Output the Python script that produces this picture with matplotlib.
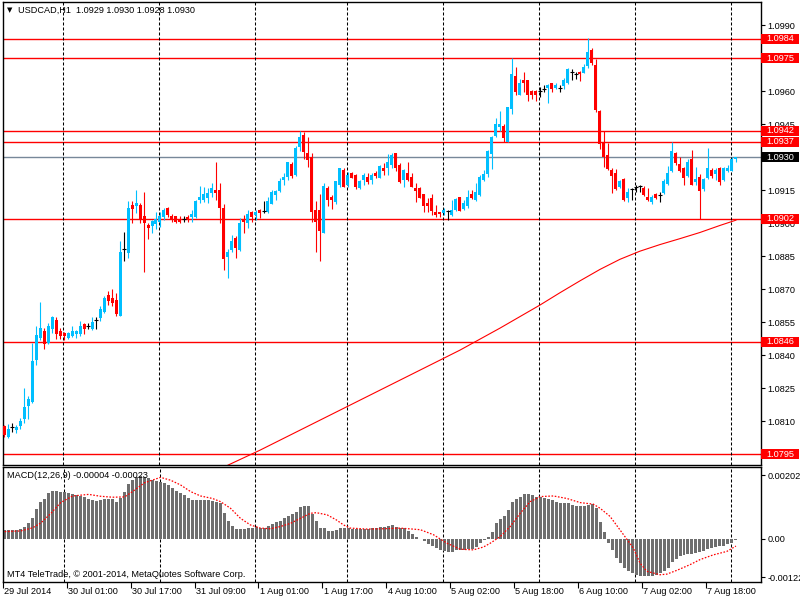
import matplotlib
matplotlib.use("Agg")
import matplotlib.pyplot as plt
import numpy as np
from matplotlib.patches import Rectangle
from matplotlib.transforms import blended_transform_factory

plt.rcParams['font.family'] = ['Liberation Sans', 'DejaVu Sans']

# USDCAD H1, 29 Jul 2014 09:00 .. 8 Aug 2014 01:00
opens = [
    1.08078, 1.08027, 1.08073, 1.08059, 1.08078, 1.08109, 1.08169, 1.08187, 1.08378, 1.08478,
    1.08510, 1.08455, 1.08519, 1.08560, 1.08510, 1.08501, 1.08478, 1.08487, 1.08496, 1.08496,
    1.08542, 1.08533, 1.08519, 1.08560, 1.08569, 1.08596, 1.08674, 1.08660, 1.08651, 1.08578,
    1.08883, 1.08866, 1.09083, 1.09078, 1.09083, 1.09032, 1.08991, 1.08987, 1.08996, 1.09006,
    1.09029, 1.09069, 1.09032, 1.09032, 1.09019, 1.09019, 1.09029, 1.09028, 1.09028, 1.09105,
    1.09105, 1.09114, 1.09139, 1.09151, 1.09151, 1.09069, 1.08848, 1.08878, 1.08933, 1.08878,
    1.09019, 1.09000, 1.09052, 1.09037, 1.09060, 1.09057, 1.09051, 1.09089, 1.09128, 1.09146,
    1.09196, 1.09211, 1.09269, 1.09219, 1.09348, 1.09401, 1.09319, 1.09303, 1.09060, 1.09060,
    1.08957, 1.09162, 1.09120, 1.09096, 1.09174, 1.09242, 1.09174, 1.09228, 1.09219, 1.09160,
    1.09196, 1.09211, 1.09196, 1.09228, 1.09207, 1.09253, 1.09251, 1.09265, 1.09318, 1.09265,
    1.09196, 1.09228, 1.09211, 1.09162, 1.09162, 1.09133, 1.09093, 1.09116, 1.09052, 1.09052,
    1.09048, 1.09057, 1.09037, 1.09060, 1.09118, 1.09063, 1.09078, 1.09133, 1.09105, 1.09128,
    1.09196, 1.09222, 1.09314, 1.09397, 1.09436, 1.09444, 1.09371, 1.09518, 1.09670, 1.09583,
    1.09651, 1.09651, 1.09601, 1.09601, 1.09601, 1.09610, 1.09616, 1.09636, 1.09616, 1.09613,
    1.09626, 1.09636, 1.09686, 1.09679, 1.09689, 1.09685, 1.09716, 1.09788, 1.09719, 1.09510,
    1.09368, 1.09310, 1.09242, 1.09230, 1.09164, 1.09201, 1.09116, 1.09155, 1.09166, 1.09169,
    1.09162, 1.09120, 1.09098, 1.09133, 1.09128, 1.09136, 1.09177, 1.09238, 1.09321, 1.09269,
    1.09250, 1.09216, 1.09292, 1.09189, 1.09211, 1.09156, 1.09204, 1.09242, 1.09224, 1.09253,
    1.09196, 1.09239, 1.09239, 1.09290,
]
highs = [
    1.08082, 1.08087, 1.08091, 1.08082, 1.08114, 1.08251, 1.08214, 1.08455, 1.08533, 1.08642,
    1.08524, 1.08546, 1.08578, 1.08574, 1.08524, 1.08505, 1.08505, 1.08533, 1.08514, 1.08555,
    1.08546, 1.08546, 1.08574, 1.08574, 1.08624, 1.08669, 1.08692, 1.08701, 1.08683, 1.08919,
    1.08960, 1.09101, 1.09101, 1.09151, 1.09093, 1.09143, 1.09000, 1.09014, 1.09052, 1.09052,
    1.09069, 1.09073, 1.09042, 1.09034, 1.09032, 1.09032, 1.09037, 1.09060, 1.09105, 1.09169,
    1.09166, 1.09160, 1.09183, 1.09280, 1.09183, 1.09087, 1.08883, 1.08946, 1.08942, 1.09023,
    1.09037, 1.09060, 1.09055, 1.09060, 1.09064, 1.09101, 1.09120, 1.09151, 1.09151, 1.09204,
    1.09227, 1.09280, 1.09278, 1.09353, 1.09420, 1.09414, 1.09394, 1.09318, 1.09101, 1.09133,
    1.09183, 1.09171, 1.09128, 1.09194, 1.09253, 1.09253, 1.09234, 1.09231, 1.09222, 1.09196,
    1.09227, 1.09227, 1.09227, 1.09237, 1.09265, 1.09273, 1.09314, 1.09318, 1.09321, 1.09273,
    1.09245, 1.09280, 1.09227, 1.09183, 1.09164, 1.09135, 1.09114, 1.09133, 1.09083, 1.09053,
    1.09069, 1.09060, 1.09105, 1.09114, 1.09119, 1.09105, 1.09151, 1.09151, 1.09183, 1.09219,
    1.09242, 1.09333, 1.09398, 1.09480, 1.09512, 1.09450, 1.09530, 1.09750, 1.09712, 1.09654,
    1.09689, 1.09653, 1.09606, 1.09606, 1.09621, 1.09628, 1.09633, 1.09639, 1.09636, 1.09628,
    1.09659, 1.09704, 1.09701, 1.09689, 1.09692, 1.09723, 1.09841, 1.09795, 1.09745, 1.09515,
    1.09421, 1.09364, 1.09250, 1.09245, 1.09196, 1.09204, 1.09159, 1.09159, 1.09174, 1.09172,
    1.09169, 1.09159, 1.09128, 1.09139, 1.09141, 1.09201, 1.09262, 1.09371, 1.09325, 1.09300,
    1.09257, 1.09291, 1.09333, 1.09254, 1.09222, 1.09207, 1.09344, 1.09253, 1.09253, 1.09254,
    1.09254, 1.09265, 1.09300, 1.09300,
]
lows = [
    1.08027, 1.08025, 1.08050, 1.08045, 1.08064, 1.08091, 1.08109, 1.08182, 1.08355, 1.08469,
    1.08428, 1.08451, 1.08501, 1.08473, 1.08473, 1.08469, 1.08473, 1.08482, 1.08478, 1.08487,
    1.08496, 1.08519, 1.08514, 1.08519, 1.08555, 1.08594, 1.08628, 1.08624, 1.08578, 1.08576,
    1.08828, 1.08842, 1.09000, 1.09046, 1.09000, 1.08779, 1.08928, 1.08956, 1.08973, 1.08982,
    1.09014, 1.09028, 1.09006, 1.09001, 1.09001, 1.09005, 1.09005, 1.09005, 1.09023, 1.09092,
    1.09098, 1.09092, 1.09119, 1.09105, 1.09000, 1.08787, 1.08751, 1.08871, 1.08842, 1.08876,
    1.08955, 1.08978, 1.09006, 1.09014, 1.09023, 1.09046, 1.09046, 1.09087, 1.09105, 1.09141,
    1.09174, 1.09196, 1.09206, 1.09216, 1.09329, 1.09292, 1.09257, 1.09006, 1.08871, 1.08828,
    1.08954, 1.09080, 1.09064, 1.09086, 1.09166, 1.09163, 1.09166, 1.09204, 1.09155, 1.09154,
    1.09174, 1.09177, 1.09177, 1.09204, 1.09204, 1.09219, 1.09219, 1.09251, 1.09239, 1.09184,
    1.09166, 1.09193, 1.09163, 1.09098, 1.09113, 1.09052, 1.09052, 1.09037, 1.09029, 1.09029,
    1.09037, 1.09014, 1.09034, 1.09055, 1.09055, 1.09060, 1.09068, 1.09109, 1.09103, 1.09124,
    1.09194, 1.09211, 1.09247, 1.09394, 1.09420, 1.09371, 1.09368, 1.09497, 1.09583, 1.09581,
    1.09598, 1.09557, 1.09564, 1.09557, 1.09575, 1.09595, 1.09548, 1.09598, 1.09609, 1.09598,
    1.09609, 1.09633, 1.09651, 1.09654, 1.09648, 1.09682, 1.09707, 1.09719, 1.09507, 1.09338,
    1.09257, 1.09242, 1.09139, 1.09151, 1.09159, 1.09103, 1.09098, 1.09105, 1.09143, 1.09143,
    1.09124, 1.09102, 1.09087, 1.09110, 1.09098, 1.09132, 1.09174, 1.09235, 1.09265, 1.09235,
    1.09174, 1.09211, 1.09172, 1.09174, 1.09019, 1.09148, 1.09200, 1.09204, 1.09196, 1.09174,
    1.09192, 1.09235, 1.09237, 1.09280,
]
closes = [
    1.08036, 1.08064, 1.08073, 1.08074, 1.08102, 1.08164, 1.08200, 1.08373, 1.08491, 1.08524,
    1.08451, 1.08533, 1.08574, 1.08496, 1.08487, 1.08487, 1.08501, 1.08510, 1.08510, 1.08533,
    1.08519, 1.08533, 1.08551, 1.08560, 1.08610, 1.08660, 1.08646, 1.08637, 1.08587, 1.08869,
    1.08883, 1.09070, 1.09065, 1.09093, 1.09019, 1.09000, 1.08978, 1.09011, 1.09019, 1.09032,
    1.09060, 1.09037, 1.09014, 1.09006, 1.09006, 1.09019, 1.09014, 1.09042, 1.09102, 1.09120,
    1.09133, 1.09137, 1.09162, 1.09139, 1.09069, 1.08837, 1.08871, 1.08921, 1.08889, 1.09000,
    1.09005, 1.09042, 1.09029, 1.09052, 1.09048, 1.09057, 1.09101, 1.09142, 1.09146, 1.09192,
    1.09211, 1.09278, 1.09216, 1.09344, 1.09394, 1.09325, 1.09287, 1.09050, 1.09006, 1.08965,
    1.09171, 1.09105, 1.09105, 1.09192, 1.09251, 1.09166, 1.09219, 1.09207, 1.09165, 1.09192,
    1.09219, 1.09189, 1.09219, 1.09215, 1.09260, 1.09239, 1.09280, 1.09310, 1.09251, 1.09189,
    1.09242, 1.09196, 1.09166, 1.09146, 1.09116, 1.09078, 1.09080, 1.09055, 1.09037, 1.09040,
    1.09060, 1.09057, 1.09060, 1.09110, 1.09057, 1.09093, 1.09118, 1.09113, 1.09143, 1.09211,
    1.09222, 1.09328, 1.09394, 1.09451, 1.09451, 1.09389, 1.09527, 1.09679, 1.09598, 1.09636,
    1.09636, 1.09583, 1.09583, 1.09583, 1.09601, 1.09610, 1.09628, 1.09609, 1.09628, 1.09613,
    1.09651, 1.09701, 1.09686, 1.09679, 1.09677, 1.09712, 1.09780, 1.09727, 1.09515, 1.09359,
    1.09300, 1.09247, 1.09216, 1.09156, 1.09194, 1.09105, 1.09143, 1.09155, 1.09166, 1.09169,
    1.09128, 1.09105, 1.09120, 1.09113, 1.09128, 1.09192, 1.09227, 1.09330, 1.09275, 1.09238,
    1.09207, 1.09280, 1.09174, 1.09201, 1.09148, 1.09201, 1.09253, 1.09216, 1.09242, 1.09189,
    1.09253, 1.09253, 1.09290, 1.09300,
]

# MACD(12,26,9) main line, drawn as histogram
macd = [
    0.00028, 0.00028, 0.00028, 0.00028, 0.00032, 0.00039, 0.00049, 0.00065, 0.00094, 0.00118,
    0.00126, 0.00144, 0.00152, 0.00153, 0.00150, 0.00147, 0.00144, 0.00141, 0.00139, 0.00136,
    0.00132, 0.00126, 0.00123, 0.00121, 0.00123, 0.00126, 0.00126, 0.00125, 0.00118, 0.00131,
    0.00147, 0.00174, 0.00188, 0.00197, 0.00199, 0.00197, 0.00192, 0.00188, 0.00184, 0.00181,
    0.00176, 0.00170, 0.00160, 0.00153, 0.00144, 0.00139, 0.00128, 0.00123, 0.00123, 0.00123,
    0.00123, 0.00122, 0.00121, 0.00118, 0.00113, 0.00081, 0.00055, 0.00042, 0.00031, 0.00031,
    0.00032, 0.00033, 0.00034, 0.00036, 0.00034, 0.00034, 0.00041, 0.00047, 0.00052, 0.00058,
    0.00065, 0.00073, 0.00079, 0.00086, 0.00102, 0.00104, 0.00104, 0.00079, 0.00055, 0.00034,
    0.00034, 0.00026, 0.00024, 0.00028, 0.00033, 0.00034, 0.00034, 0.00032, 0.00031, 0.00031,
    0.00031, 0.00032, 0.00034, 0.00034, 0.00036, 0.00039, 0.00042, 0.00043, 0.00039, 0.00034,
    0.00034, 0.00026, 0.00016, 0.00007, -0.00001, -0.00006, -0.00016, -0.00024, -0.00029, -0.00035,
    -0.00040, -0.00043, -0.00043, -0.00037, -0.00035, -0.00035, -0.00033, -0.00031, -0.00026, -0.00012,
    -0.00003, 0.00007, 0.00023, 0.00049, 0.00062, 0.00071, 0.00092, 0.00116, 0.00125, 0.00134,
    0.00142, 0.00142, 0.00140, 0.00134, 0.00132, 0.00128, 0.00125, 0.00123, 0.00118, 0.00115,
    0.00113, 0.00113, 0.00107, 0.00105, 0.00105, 0.00105, 0.00107, 0.00111, 0.00097, 0.00052,
    0.00023, -0.00012, -0.00035, -0.00061, -0.00077, -0.00093, -0.00103, -0.00108, -0.00114, -0.00117,
    -0.00119, -0.00119, -0.00119, -0.00114, -0.00108, -0.00103, -0.00093, -0.00075, -0.00064, -0.00056,
    -0.00051, -0.00047, -0.00047, -0.00045, -0.00043, -0.00040, -0.00033, -0.00029, -0.00026, -0.00024,
    -0.00022, -0.00016, -0.00012, -0.00004,
]

# signal line, read at points along the dotted curve
signal_bar = [0, 4, 7, 9, 11.5, 14, 17, 21, 24, 27, 30, 32, 35, 39, 41.5, 44, 46.5, 49, 52, 54,
              56.5, 59, 61.5, 64, 66.5, 69, 71.5, 74, 76.5, 78, 80.7, 83, 84.8, 86.5, 90.7, 94.8,
              99, 104, 107.3, 110.7, 114, 117.3, 119.8, 121.5, 124, 126.5, 129, 131.5, 134, 137.3,
              140.7, 144, 147.3, 149, 151.5, 154, 157.3, 159, 160.7, 164, 165.7, 168.2, 171.5, 174,
              177.3, 180.7, 183]
signal_val = [0.00023, 0.00025, 0.00035, 0.00050, 0.00080, 0.00115, 0.00136, 0.00141, 0.00135, 0.00132,
              0.00133, 0.00150, 0.00178, 0.00195, 0.00186, 0.00171, 0.00150, 0.00136, 0.00128, 0.00118,
              0.00097, 0.00065, 0.00044, 0.00034, 0.00032, 0.00039, 0.00049, 0.00065, 0.00081, 0.00083,
              0.00076, 0.00060, 0.00044, 0.00034, 0.00031, 0.00032, 0.00034, 0.00029, 0.00013, -0.00014,
              -0.00033, -0.00035, -0.00026, -0.00014, 0.00007, 0.00039, 0.00081, 0.00118, 0.00134, 0.00136,
              0.00128, 0.00115, 0.00110, 0.00097, 0.00071, 0.00028, -0.00029, -0.00077, -0.00103, -0.00114,
              -0.00112, -0.00100, -0.00082, -0.00066, -0.00051, -0.00040, -0.00023]

# moving average line
ma_bar = [55, 56, 64, 74, 84, 94, 104, 114, 124, 134, 139, 144, 149, 154, 159, 164, 169, 174, 179, 183]
ma_val = [1.07890, 1.07900, 1.07968, 1.08059, 1.08150, 1.08241, 1.08332, 1.08423, 1.08523, 1.08628,
          1.08684, 1.08738, 1.08790, 1.08836, 1.08873, 1.08903, 1.08930, 1.08958, 1.08990, 1.09014]

levels = [1.0984, 1.0975, 1.0942, 1.0937, 1.0902, 1.0846, 1.0795]
bid = 1.0930
price_ticks = [1.0990, 1.0975, 1.0960, 1.0945, 1.0930, 1.0915, 1.0900, 1.0885,
               1.0870, 1.0855, 1.0840, 1.0825, 1.0810, 1.0795]
macd_ticks = [0.00202, 0.0, -0.00122]
macd_tick_labels = ['0.00202', '0.00', '-0.00122']

day_start_bar = [15, 39, 63, 86, 110, 134, 158, 182]
time_bar = [0, 16, 32, 48, 64, 80, 96, 112, 128, 144, 160, 176]
time_labels = ['29 Jul 2014', '30 Jul 01:00', '30 Jul 17:00', '31 Jul 09:00', '1 Aug 01:00',
               '1 Aug 17:00', '4 Aug 10:00', '5 Aug 02:00', '5 Aug 18:00', '6 Aug 10:00',
               '7 Aug 02:00', '7 Aug 18:00']

BULL = '#00BFFF'
BEAR = '#FF0000'
FS = 6.6

fig = plt.figure(figsize=(8, 6), dpi=100)
ax = fig.add_axes([0.0034, 0.225, 0.9475, 0.7717])
axm = fig.add_axes([0.0034, 0.0305, 0.9475, 0.1907])

x = np.arange(len(opens))
o = np.array(opens)
h = np.array(highs)
l = np.array(lows)
c = np.array(closes)
up = c > o
dn = c < o
dj = c == o
col = np.where(up, BULL, np.where(dn, BEAR, 'black'))

# levels and bid line
for lv in levels:
    ax.axhline(lv, color='red', lw=1, zorder=1)
ax.axhline(bid, color='#778899', lw=1, zorder=1)

# period separators
dash = (0, (2.9, 1.9))
for d in day_start_bar:
    ax.axvline(d - 0.25, color='black', lw=0.75, linestyle=dash, zorder=1)
    axm.axvline(d - 0.25, color='black', lw=0.75, linestyle=dash, zorder=1)

# moving average
ax.plot(ma_bar, ma_val, color='red', lw=0.8, zorder=2)

# candles
ax.vlines(x, l, h, colors=col, lw=0.8, zorder=3)
nb = ~dj
ax.bar(x[nb], np.abs(c - o)[nb], bottom=np.minimum(o, c)[nb], width=0.75,
       color=col[nb], linewidth=0, zorder=4)
ax.hlines(o[dj], x[dj] - 0.4, x[dj] + 0.4, colors='black', lw=0.8, zorder=4)

ax.set_xlim(-0.325, 189.2)
ax.set_ylim(1.079006, 1.100063)
ax.set_xticks([])
ax.yaxis.tick_right()
ax.set_yticks(price_ticks)
ax.set_yticklabels([f'{t:.4f}' for t in price_ticks])
ax.tick_params(axis='y', length=3, width=0.8, pad=2, labelsize=FS, colors='black')
for s in ax.spines.values():
    s.set_linewidth(1)

# right side level boxes
trans = blended_transform_factory(ax.transAxes, ax.transData)
half = 0.000227
for lv in levels:
    ax.add_patch(Rectangle((1.0005, lv - half), 0.0505, 2 * half, transform=trans,
                           facecolor='red', edgecolor='none', clip_on=False, zorder=6))
    ax.text(1.007, lv, f'{lv:.4f}', transform=trans, color='white', fontsize=FS,
            va='center', ha='left', zorder=7, clip_on=False)
ax.add_patch(Rectangle((1.0005, bid - half), 0.0505, 2 * half, transform=trans,
                       facecolor='black', edgecolor='none', clip_on=False, zorder=6))
ax.text(1.007, bid, f'{bid:.4f}', transform=trans, color='white', fontsize=FS,
        va='center', ha='left', zorder=7, clip_on=False)

ax.text(0.0057, 0.9816, '\u25bc', transform=ax.transAxes, fontsize=5, va='center',
        ha='left', family=['DejaVu Sans'])
ax.text(0.0202, 0.9816, 'USDCAD,H1  1.0929 1.0930 1.0928 1.0930', transform=ax.transAxes,
        fontsize=FS, va='center', ha='left')

# MACD panel
axm.bar(x, macd, width=0.75, color='#6E6E6E', linewidth=0, zorder=2)
axm.plot(signal_bar, signal_val, color='red', lw=0.9, linestyle=(0, (1.3, 1.3)), zorder=3)
axm.set_xlim(-0.325, 189.2)
axm.set_ylim(-0.00136, 0.00227)
axm.yaxis.tick_right()
axm.set_yticks(macd_ticks)
axm.set_yticklabels(macd_tick_labels)
axm.tick_params(axis='y', length=3, width=0.8, pad=2, labelsize=FS)
axm.set_xticks([b - 0.5 for b in time_bar])
axm.set_xticklabels([])
axm.tick_params(axis='x', length=4, width=0.8, direction='out')
for s in axm.spines.values():
    s.set_linewidth(1)
tb = blended_transform_factory(axm.transData, axm.transAxes)
for b, lab in zip(time_bar, time_labels):
    axm.text(b - 0.2, -0.087, lab, transform=tb, fontsize=FS, va='center', ha='left',
             clip_on=False)

axm.text(0.0057, 0.924, 'MACD(12,26,9) -0.00004 -0.00023', transform=axm.transAxes,
         fontsize=FS, va='center', ha='left', zorder=5)
axm.text(0.0057, 0.0586, 'MT4 TeleTrade, \u00a9 2001-2014, MetaQuotes Software Corp.',
         transform=axm.transAxes, fontsize=FS, va='center', ha='left', zorder=5)

fig.savefig('out.png', dpi=100)
